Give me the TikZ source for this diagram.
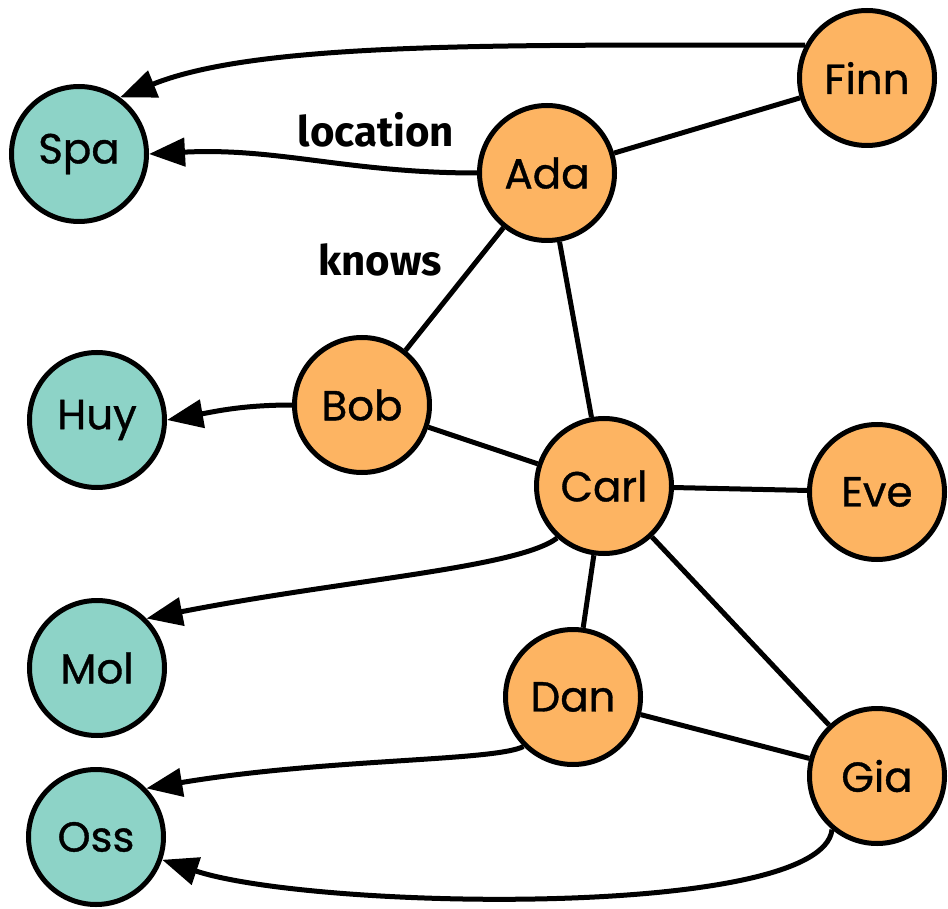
\documentclass[tikz,border=0pt]{standalone}
\usepackage{fontspec}
\setmainfont{Poppins}
\newfontfamily\nodefont{Poppins}[FakeBold=0.9]
\newfontfamily\labelfont{Fira Sans}
\usetikzlibrary{arrows.meta}
\definecolor{person}{HTML}{FDB462}
\definecolor{place}{HTML}{8DD3C7}
\begin{document}
\begin{tikzpicture}[x=1pt,y=1pt,
  vertex/.style={circle,draw=black,line width=5pt,minimum size=135pt,inner sep=0pt,
    font=\nodefont\fontsize{42}{50}\selectfont},
  personnode/.style={vertex,fill=person},
  placenode/.style={vertex,fill=place},
  link/.style={line width=5pt,draw=black},
  arr/.style={link,-{Triangle[length=36pt,width=28pt]}},
  edgelabel/.style={font=\labelfont\bfseries\fontsize{42}{50}\selectfont,inner sep=0pt}]
\useasboundingbox (0,0) rectangle (948,-909);

% people
\node[personnode] (Finn) at (867,-78)  {Finn};
\node[personnode] (Ada)  at (547,-173) {Ada};
\node[personnode] (Bob)  at (362,-405) {Bob};
\node[personnode] (Carl) at (604,-486) {Carl};
\node[personnode] (Eve)  at (877,-492) {Eve};
\node[personnode] (Dan)  at (573,-697) {Dan};
\node[personnode] (Gia)  at (877,-776) {Gia};

% places
\node[placenode] (Spa) at (79,-154)  {Spa};
\node[placenode] (Huy) at (97,-420)  {Huy};
\node[placenode] (Mol) at (97,-668)  {Mol};
\node[placenode] (Oss) at (96,-837)  {Oss};

% acquaintances
\draw[link] (Ada) -- (Finn);
\draw[link] (Ada) -- (Bob);
\draw[link] (Ada) -- (Carl);
\draw[link] (Bob) -- (Carl);
\draw[link] (Carl) -- (Eve);
\draw[link] (Carl) -- (Dan);
\draw[link] (Carl) -- (Gia);
\draw[link] (Dan) -- (Gia);

% locations
\draw[arr] (Finn.152) .. controls +(-300,0) and +(139,56) .. (Spa.54);
\draw[arr] (Ada.west) to[out=180,in=3] (Spa.east);
\draw[arr] (Bob.west) to[out=180,in=10] (Huy.east);
\draw[arr] (Carl.228) .. controls +(-40,-30) and +(200,39) .. (Mol.45);
\draw[arr] (Dan.225) .. controls +(-30,-15) and +(180,30) .. (Oss.44);
\draw[arr] (Gia.230) .. controls +(-10,-90) and +(150,-50) .. (Oss.-19);

% edge labels
\node[edgelabel] (loclabel) at (376,-130) {location};
\node[edgelabel] (knowslabel) at (380,-260) {knows};
\end{tikzpicture}
\end{document}
